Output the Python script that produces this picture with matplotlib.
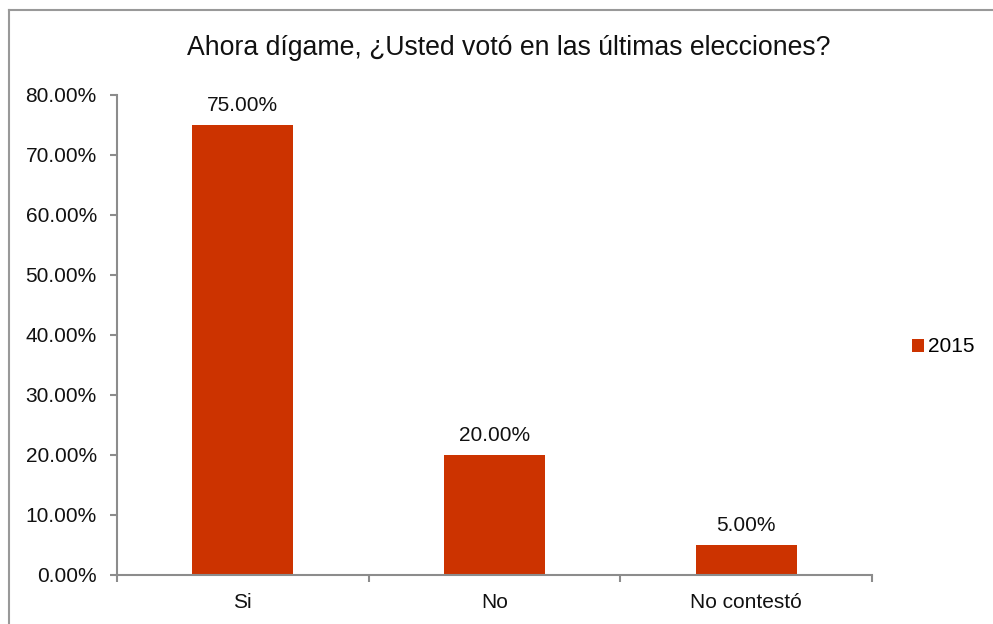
import matplotlib
matplotlib.use('Agg')
import matplotlib.pyplot as plt
from matplotlib.lines import Line2D
from matplotlib.ticker import PercentFormatter

plt.rcParams['font.family'] = ['Liberation Sans', 'DejaVu Sans']

# datos de la encuesta
categorias = ['Si', 'No', 'No contestó']
valores = [0.75, 0.20, 0.05]
serie = '2015'
titulo = 'Ahora dígame, ¿Usted votó en las últimas elecciones?'

W, H = 993, 624
fig = plt.figure(figsize=(W / 100, H / 100), dpi=100)
ax = fig.add_axes([117 / W, 1 - 575 / H, (872 - 117) / W, (575 - 95) / H])

gris = '#8c8c8c'
color_barra = '#cc3300'
texto = '#111111'
fs = 15

x = list(range(len(categorias)))
barras = ax.bar(x, valores, width=0.4, color=color_barra, label=serie)
for xi, v in zip(x, valores):
    ax.annotate(f'{v * 100:.2f}%', (xi, v), xytext=(0, 7.5), textcoords='offset points',
                ha='center', va='bottom', fontsize=fs, color=texto)

ax.set_xlim(-0.5, len(categorias) - 0.5)
ax.set_ylim(0, 0.8)
ax.set_yticks([i / 10 for i in range(9)])
ax.yaxis.set_major_formatter(PercentFormatter(1.0, decimals=2))
ax.set_xticks(x)
ax.set_xticklabels(categorias)
# marcas del eje x entre categorias
ax.set_xticks([i - 0.5 for i in range(len(categorias) + 1)], minor=True)
ax.tick_params(axis='x', which='major', length=0, pad=13, labelsize=fs, labelcolor=texto)
ax.tick_params(axis='x', which='minor', length=5, color=gris, width=1.5)
ax.tick_params(axis='y', length=5, color=gris, width=1.5, pad=9.5, labelsize=fs, labelcolor=texto)

for lado in ['top', 'right']:
    ax.spines[lado].set_visible(False)
for lado in ['left', 'bottom']:
    ax.spines[lado].set_color(gris)
    ax.spines[lado].set_linewidth(1.5)

fig.text(509 / W, 1 - 48 / H, titulo, ha='center', va='center', fontsize=19.2, color=texto)

fig.legend(handles=[barras], labels=[serie], loc='center left',
           bbox_to_anchor=(912 / W, 1 - 347 / H), frameon=False, fontsize=fs,
           handlelength=0.58, handleheight=0.58, handletextpad=0.2, borderpad=0,
           borderaxespad=0)

# marco exterior del grafico
fig.add_artist(Line2D([8.5 / W, 8.5 / W], [0, 1 - 10 / H], color='#999999', lw=1.5,
                      transform=fig.transFigure))
fig.add_artist(Line2D([8.5 / W, 1], [1 - 10 / H, 1 - 10 / H], color='#999999', lw=1.5,
                      transform=fig.transFigure))

fig.savefig('out.png', dpi=100)
